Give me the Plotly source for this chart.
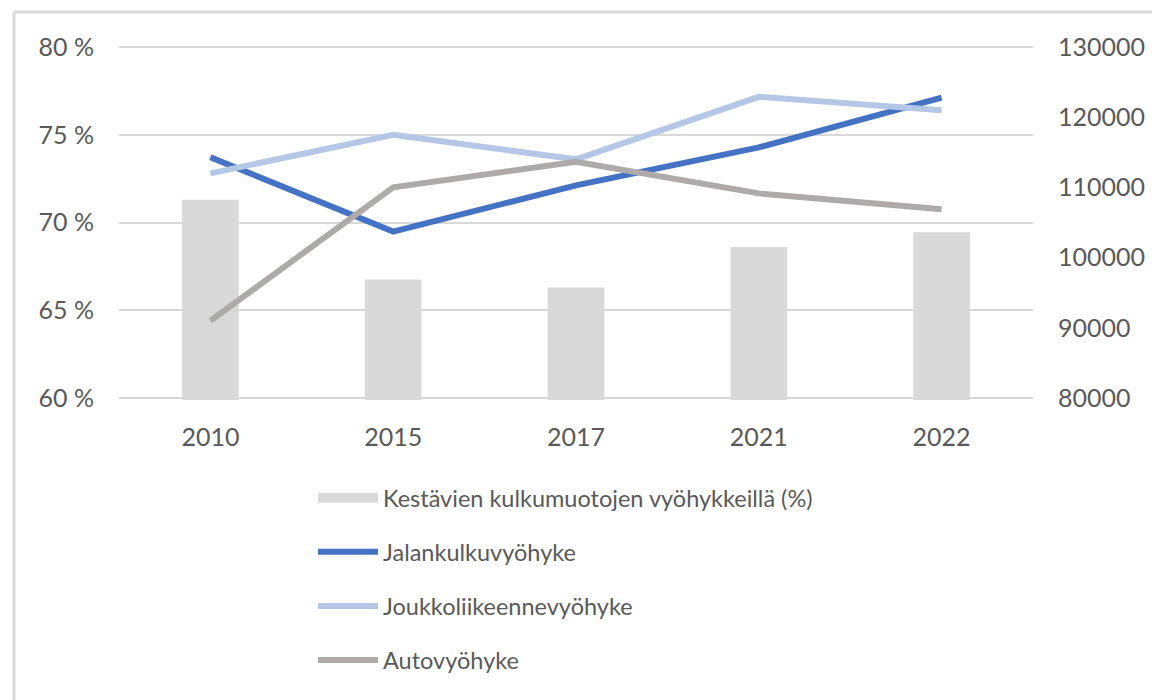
import plotly.graph_objects as go

years = ["2010", "2015", "2017", "2021", "2022"]
share_pct = [71.3, 66.75, 66.3, 68.6, 69.45]
jalankulku = [114300, 103700, 110300, 115700, 122800]
joukkoliikenne = [112000, 117500, 114000, 122900, 121000]
auto = [91000, 110000, 113650, 109150, 106900]

bar_name = "Kestävien kulkumuotojen vyöhykkeillä (%)"
line_names = ["Jalankulkuvyöhyke", "Joukkoliikeennevyöhyke", "Autovyöhyke"]
line_colors = ["#4472c4", "#b4c7e7", "#aeaaaa"]
bar_color = "#d9d9d9"

pct_ticks = [60, 65, 70, 75, 80]
pct_labels = ["60 %", "65 %", "70 %", "75 %", "80 %"]
num_ticks = [80000, 90000, 100000, 110000, 120000, 130000]

FONT = "Lato"
TXT = "#595959"

# the page body adds an 8px margin; figure is sized to fit the window
W, H = 1152, 692
OFF = 8
# plot area in screen pixels, converted to figure pixels
L, R, T, B = 119 - OFF, 1033 - OFF, 45 - OFF, 400 - OFF
PW, PH = R - L, B - T

fig = go.Figure()
fig.add_trace(go.Bar(x=years, y=share_pct, marker=dict(color=bar_color, line=dict(width=0)),
                     width=0.31, name=bar_name, showlegend=False, yaxis="y"))
fig.add_trace(go.Scatter(x=[None], y=[None], mode="lines", name=bar_name,
                         line=dict(color=bar_color, width=12), legendgroup="g0", yaxis="y"))
for nm, vals, col, g in zip(line_names, [jalankulku, joukkoliikenne, auto], line_colors, ["g1", "g2", "g3"]):
    fig.add_trace(go.Scatter(x=years, y=vals, mode="lines", name=nm, legendgroup=g,
                             line=dict(color=col, width=6), yaxis="y2"))

fig.update_layout(
    width=W, height=H,
    margin=dict(l=L, r=W - R, t=T, b=H - B, autoexpand=False),
    paper_bgcolor="white", plot_bgcolor="white",
    font=dict(family=FONT, color=TXT, size=23),
    xaxis=dict(type="category", showgrid=False, showline=False, zeroline=False,
               tickfont=dict(size=25, color=TXT), ticks="", ticklabelstandoff=20),
    yaxis=dict(range=[59.885, 80.115], tickvals=pct_ticks, ticktext=pct_labels,
               showgrid=True, gridcolor="#d9d9d9", gridwidth=2, zeroline=False,
               showline=False, tickfont=dict(size=25, color=TXT), ticklabelstandoff=24),
    yaxis2=dict(range=[79712.5, 130287.5], tickvals=num_ticks, tickformat="d",
                overlaying="y", side="right", showgrid=False, zeroline=False,
                showline=False, tickfont=dict(size=25, color=TXT), ticklabelstandoff=24),
    legend=dict(x=(305 - L) / PW, xanchor="left", y=(B - 468) / PH, yanchor="top",
                orientation="v", traceorder="grouped", tracegroupgap=20.5,
                itemwidth=60, font=dict(size=23.5, color=TXT), bgcolor="rgba(0,0,0,0)"),
    shapes=[
        dict(type="line", xref="paper", yref="paper",
             x0=(14 - OFF - L) / PW, x1=(W - L) / PW,
             y0=(B - (12 - OFF)) / PH, y1=(B - (12 - OFF)) / PH,
             line=dict(color="#d9d9d9", width=3)),
        dict(type="line", xref="paper", yref="paper",
             x0=(14 - OFF - L) / PW, x1=(14 - OFF - L) / PW,
             y0=(B - (12 - OFF)) / PH, y1=(B - H) / PH,
             line=dict(color="#d9d9d9", width=3)),
    ],
)

fig.write_html("out.html")
